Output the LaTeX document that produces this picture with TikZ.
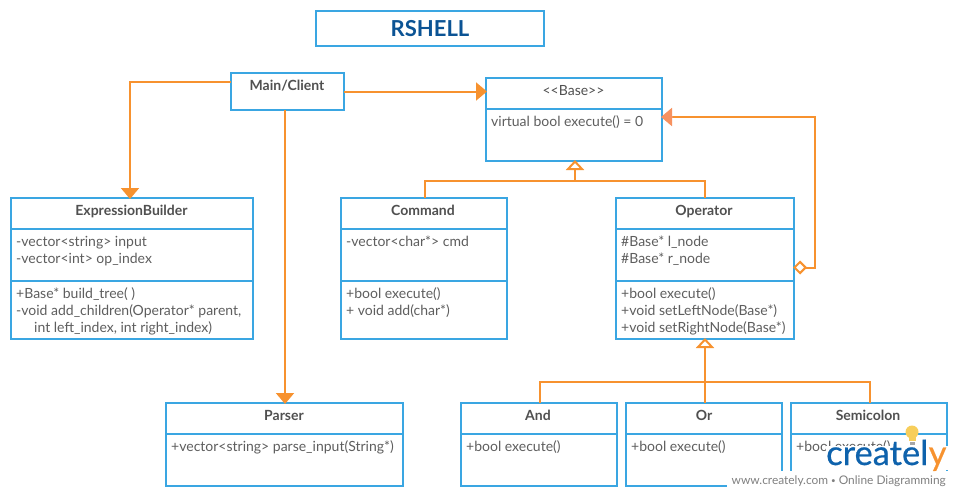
\documentclass[tikz,border=0pt]{standalone}
\usepackage{fontspec}
\setmainfont{Lato}[UprightFont={* Regular},BoldFont={* Bold}]
\newfontfamily\logoface{Lato}[UprightFont={* Regular},FakeBold=0.5]
\usetikzlibrary{arrows.meta}
\definecolor{boxblue}{HTML}{3AA6E2}
\definecolor{linkorange}{HTML}{F7922F}
\definecolor{salmon}{HTML}{F79260}
\definecolor{txt}{HTML}{5E5E5E}
\definecolor{headtxt}{HTML}{505050}
\definecolor{headblue}{HTML}{0B5394}
\definecolor{logoblue}{HTML}{0E62AC}
\definecolor{bulb}{HTML}{F7CE5B}
\tikzset{
  umlbox/.style={draw=boxblue,line width=2pt,fill=white,anchor=north west,inner sep=0pt,outer sep=0pt},
  divider/.style={draw=boxblue,line width=2pt},
  head/.style={font=\fontsize{14}{17}\selectfont\bfseries,text=headtxt,inner sep=0pt,anchor=base},
  body/.style={font=\fontsize{14}{17}\selectfont,text=txt,inner sep=0pt,anchor=north west,align=left},
  link/.style={draw=linkorange,line width=2pt},
  solidtip/.style={link,-{Triangle[length=11pt,width=18pt,fill=linkorange,sep=-1pt]}},
  hollowtip/.style={link,-{Triangle[open,length=10pt,width=18pt,fill=white,sep=-1pt]}},
}
\newcommand{\umlnode}[5]{%
  \node[umlbox,minimum width={(#4-#2)*1pt},minimum height={(#5-#3)*1pt}] (#1) at (#2,#3) {};}
\newcommand{\umldiv}[3]{\draw[divider] (#1,#3) -- (#2,#3);}
\begin{document}
\begin{tikzpicture}[x=1pt,y=-1pt]
\useasboundingbox (0,0) rectangle (960,496);
\fill[white] (0,0) rectangle (960,496);
% boxes
\node[umlbox,minimum width=228pt,minimum height=35pt,align=center,text=headblue,font=\fontsize{22}{24}\selectfont\bfseries] (titlebox) at (316,11) {RSHELL};
\umlnode{main}{231}{73}{344}{110}
\umlnode{base}{486}{78}{662}{161}
\umlnode{expr}{11}{198}{253}{339}
\umlnode{cmd}{341}{198}{507}{339}
\umlnode{op}{616}{198}{794}{339}
\umlnode{parser}{166}{403}{403}{486}
\umlnode{and}{461}{403}{617}{486}
\umlnode{or}{626}{403}{782}{486}
\umlnode{semi}{791}{403}{947}{486}
% dividers
\umldiv{486}{662}{109}
\umldiv{11}{253}{229}
\umldiv{11}{253}{281}
\umldiv{341}{507}{229}
\umldiv{341}{507}{281}
\umldiv{616}{794}{229}
\umldiv{616}{794}{281}
\umldiv{166}{403}{434}
\umldiv{461}{617}{434}
\umldiv{626}{782}{434}
\umldiv{791}{947}{434}
% titles
\node[head] (t1) at (287,90) {Main/Client};
\node[head,font=\fontsize{14}{17}\selectfont] (t2) at (573.500,95) {<{}<Base>{}>};
\node[head] (t3) at (131.500,215) {ExpressionBuilder};
\node[head] (t4) at (423,215) {Command};
\node[head] (t5) at (704,215) {Operator};
\node[head] (t6) at (284,420) {Parser};
\node[head] (t7) at (538,420) {And};
\node[head] (t8) at (704,420) {Or};
\node[head] (t9) at (868,420) {Semicolon};
% bodies
\node[body] (b1) at (491,115) {virtual bool execute() = 0};
\node[body] (b2) at (16,236) {-vector<string> input\\-vector<int> op\_index};
\node[body] (b3) at (16,287) {+Base* build\_tree( )\\-void add\_children(Operator* parent,\\\hspace{18pt}int left\_index, int right\_index)};
\node[body] (b4) at (346,236) {-vector<char*> cmd};
\node[body] (b5) at (346,287) {+bool execute()\\+ void add(char*)};
\node[body] (b6) at (621,236) {\#Base* l\_node\\\#Base* r\_node};
\node[body] (b7) at (621,287) {+bool execute()\\+void setLeftNode(Base*)\\+void setRightNode(Base*)};
\node[body] (b8) at (171,440) {+vector<string> parse\_input(String*)};
\node[body] (b9) at (466,440) {+bool execute()};
\node[body] (b10) at (631,440) {+bool execute()};
\node[body] (b11) at (796,440) {+bool execute()};
% connectors
\coordinate (elbowE) at (130,82);
\draw[solidtip] ([yshift=9.500pt]main.west) -- (elbowE) -- (elbowE |- expr.north);
\draw[solidtip] (main.east) -- (base.west |- main.east);
\draw[solidtip] ([xshift=-2.500pt]main.south) -- ([xshift=0.500pt]parser.north);
% generalisation to Base
\coordinate (joinA) at (575,180.500);
\draw[link] ([xshift=1pt]cmd.north) |- (joinA) -| (op.north);
\draw[hollowtip] (joinA) -- (joinA |- base.south);
% generalisation to Operator
\coordinate (joinB) at (705,381.500);
\draw[link] ([xshift=1pt]and.north) |- (joinB) -| ([xshift=1pt]semi.north);
\draw[hollowtip] ([xshift=1pt]or.north) -- ([xshift=1pt]or.north |- op.south);
% aggregation
\coordinate (aggA) at (815,267.500);
\coordinate (aggB) at (815,117);
\draw[link,{Diamond[open,length=14pt,width=14pt,fill=white,sep=-1pt]}-] (op.east |- aggA) -- (aggA) -- (aggB) -- (aggB -| base.east);
\draw[draw=salmon,line width=2pt,-{Triangle[length=11pt,width=18pt,fill=salmon,color=salmon,sep=-1pt]}] ([xshift=11pt]aggB -| base.east) -- (aggB -| base.east);
% logo
\fill[white] (826,446) rectangle (950,470);
\fill[white] (727,471) rectangle (950,490);
\node[font=\logoface\fontsize{34.500}{34}\selectfont,text=logoblue,inner sep=0pt,anchor=base west] (logo) at (826,465) {createl};
\node[font=\logoface\fontsize{34.500}{34}\selectfont,text=linkorange,inner sep=0pt,anchor=base west] (logoy) at (logo.base east) {y};
\node[font=\fontsize{11.900}{14}\selectfont,text=gray,inner sep=0pt,anchor=base east] (tag) at (946,484) {www.creately.com \raisebox{1pt}{\fontsize{8}{8}\selectfont•} Online Diagramming};
\fill[bulb] (912,432) circle (6.500pt);
\fill[bulb] (908.500,436) rectangle (915.500,441);
\fill[gray!70] (909.500,441.500) rectangle (914.500,444.500);
\end{tikzpicture}
\end{document}
